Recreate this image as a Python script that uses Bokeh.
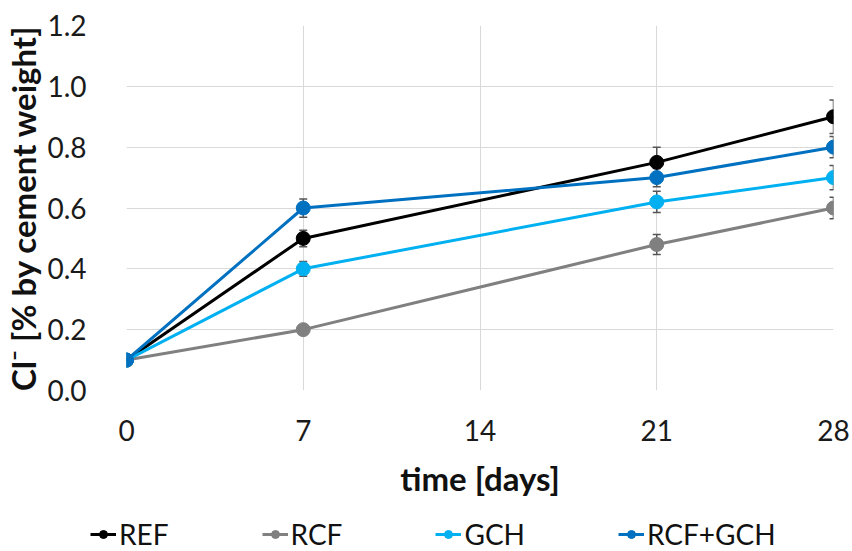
from bokeh.plotting import figure
from bokeh.layouts import column, row
from bokeh.models import (ColumnDataSource, Whisker, Legend, LegendItem, FixedTicker,
                          Range1d, CustomJSTickFormatter)
from bokeh.embed import file_html
from bokeh.resources import INLINE

days = [0, 7, 21, 28]
series_names = ["REF", "RCF", "GCH", "RCF+GCH"]
ref = [0.10, 0.50, 0.75, 0.90]
rcf = [0.10, 0.20, 0.48, 0.60]
gch = [0.10, 0.40, 0.62, 0.70]
rcf_gch = [0.10, 0.60, 0.70, 0.80]
ref_err = [0.0, 0.027, 0.05, 0.055]
rcf_err = [0.0, 0.0, 0.033, 0.035]
gch_err = [0.0, 0.024, 0.035, 0.04]
rcf_gch_err = [0.0, 0.03, 0.03, 0.035]
colors = ["#000000", "#808080", "#00B0F0", "#0070C0"]
x_ticks = [0, 7, 14, 21, 28]
y_ticks = [0.0, 0.2, 0.4, 0.6, 0.8, 1.0, 1.2]

FONT = "Lato"

p = figure(width=852, height=505, output_backend="svg", toolbar_location=None,
           x_range=Range1d(0, 28), y_range=Range1d(0, 1.2),
           min_border_left=125, min_border_right=19, min_border_top=25, min_border_bottom=115)
p.outline_line_color = None
p.background_fill_color = "white"

for ax in (p.xaxis[0], p.yaxis[0]):
    ax.axis_line_color = None
    ax.major_tick_line_color = None
    ax.minor_tick_line_color = None
    ax.major_label_text_font = FONT
    ax.major_label_text_font_size = "28px"
    ax.major_label_text_color = "#1a1a1a"
    ax.axis_label_text_font = FONT
    ax.axis_label_text_font_size = "33px"
    ax.axis_label_text_font_style = "bold"
    ax.axis_label_text_color = "#111111"

p.xaxis.ticker = FixedTicker(ticks=x_ticks)
p.yaxis.ticker = FixedTicker(ticks=y_ticks)
p.yaxis.formatter = CustomJSTickFormatter(code="return tick.toFixed(1);")
p.xaxis.axis_label = "time [days]"
p.yaxis.axis_label = "Cl\u207b [% by cement weight]"
p.xaxis.major_label_standoff = 23
p.yaxis.major_label_standoff = 34
p.xaxis.axis_label_standoff = 14
p.yaxis.axis_label_standoff = 1

p.xgrid.grid_line_color = "#d9d9d9"
p.ygrid.grid_line_color = "#d9d9d9"
p.xgrid.grid_line_width = 1
p.ygrid.grid_line_width = 1

vals = [ref, rcf, gch, rcf_gch]
errs = [ref_err, rcf_err, gch_err, rcf_gch_err]
for name, v, e, c in zip(series_names, vals, errs, colors):
    src = ColumnDataSource(dict(x=days, y=v,
                                lo=[a - b for a, b in zip(v, e)],
                                hi=[a + b for a, b in zip(v, e)]))
    w = Whisker(base="x", lower="lo", upper="hi", source=src,
                line_color="#555555", line_width=1.5)
    for h in (w.upper_head, w.lower_head):
        h.size = 8
        h.line_color = "#555555"
        h.line_width = 1.5
    p.add_layout(w)
    p.line("x", "y", source=src, line_color=c, line_width=3)
    p.scatter("x", "y", source=src, size=14, fill_color=c, line_color=c)

# legend strip below the chart
lg = figure(width=852, height=46, output_backend="svg", toolbar_location=None,
            x_range=Range1d(0, 1), y_range=Range1d(0, 1),
            x_axis_location=None, y_axis_location=None,
            min_border_left=0, min_border_right=0, min_border_top=0, min_border_bottom=0)
lg.grid.visible = False
lg.outline_line_color = None
items = []
for name, c in zip(series_names, colors):
    r1 = lg.line([-10, -9], [-10, -9], line_color=c, line_width=3)
    r2 = lg.scatter([-10], [-10], size=12, fill_color=c, line_color=c)
    items.append(LegendItem(label=name, renderers=[r1, r2]))
legend = Legend(items=items, orientation="horizontal", location=(90, 0),
                label_text_font=FONT, label_text_font_size="28px", label_text_color="#111111",
                glyph_width=26, glyph_height=20, label_standoff=3, spacing=93,
                padding=0, margin=0, border_line_color=None, background_fill_alpha=0)
lg.add_layout(legend, "center")

layout = column(p, row(lg, spacing=0), spacing=0)
open("out.html", "w").write(file_html(layout, INLINE))
